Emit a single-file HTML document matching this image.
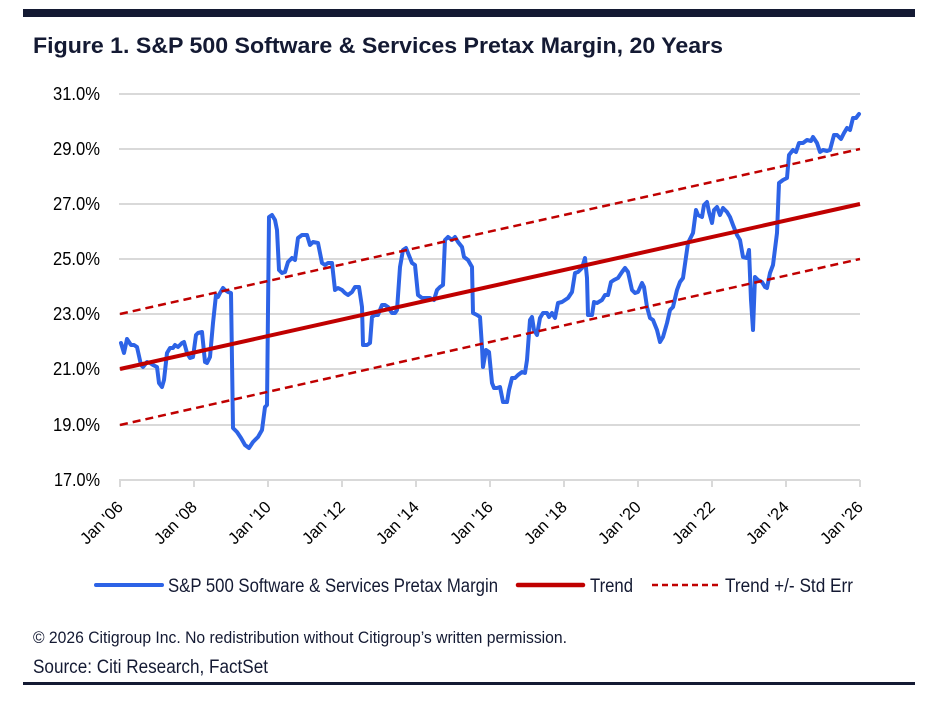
<!DOCTYPE html>
<html><head><meta charset="utf-8"><style>
html,body{margin:0;padding:0;background:#fff;}
svg{display:block;font-family:"Liberation Sans",Arial,sans-serif;}
</style></head><body>
<svg width="934" height="702" viewBox="0 0 934 702" xmlns="http://www.w3.org/2000/svg">
<rect x="23" y="9" width="892" height="8" fill="#141a33"/>
<text x="33" y="53" font-size="22" font-weight="bold" fill="#141a33" textLength="690" lengthAdjust="spacingAndGlyphs">Figure 1. S&amp;P 500 Software &amp; Services Pretax Margin, 20 Years</text>
<g stroke="#d9d9d9" stroke-width="2">
<line x1="119" y1="94" x2="860" y2="94"/>
<line x1="119" y1="149" x2="860" y2="149"/>
<line x1="119" y1="204" x2="860" y2="204"/>
<line x1="119" y1="259" x2="860" y2="259"/>
<line x1="119" y1="314" x2="860" y2="314"/>
<line x1="119" y1="369" x2="860" y2="369"/>
<line x1="119" y1="425" x2="860" y2="425"/>
<line x1="119" y1="480" x2="860" y2="480"/>
<line x1="120" y1="480" x2="120" y2="487"/>
<line x1="194" y1="480" x2="194" y2="487"/>
<line x1="268" y1="480" x2="268" y2="487"/>
<line x1="342" y1="480" x2="342" y2="487"/>
<line x1="416" y1="480" x2="416" y2="487"/>
<line x1="490" y1="480" x2="490" y2="487"/>
<line x1="564" y1="480" x2="564" y2="487"/>
<line x1="638" y1="480" x2="638" y2="487"/>
<line x1="712" y1="480" x2="712" y2="487"/>
<line x1="786" y1="480" x2="786" y2="487"/>
<line x1="860" y1="480" x2="860" y2="487"/>
</g>
<g font-size="18" fill="#000" text-anchor="end">
<text x="100" y="100" textLength="47" lengthAdjust="spacingAndGlyphs">31.0%</text>
<text x="100" y="155" textLength="47" lengthAdjust="spacingAndGlyphs">29.0%</text>
<text x="100" y="210" textLength="47" lengthAdjust="spacingAndGlyphs">27.0%</text>
<text x="100" y="265" textLength="47" lengthAdjust="spacingAndGlyphs">25.0%</text>
<text x="100" y="320" textLength="47" lengthAdjust="spacingAndGlyphs">23.0%</text>
<text x="100" y="375" textLength="47" lengthAdjust="spacingAndGlyphs">21.0%</text>
<text x="100" y="431" textLength="47" lengthAdjust="spacingAndGlyphs">19.0%</text>
<text x="100" y="486" textLength="46" lengthAdjust="spacingAndGlyphs">17.0%</text>
</g>
<g font-size="16.5" fill="#000" text-anchor="end">
<text transform="translate(124,508) rotate(-45)">Jan '06</text>
<text transform="translate(198,508) rotate(-45)">Jan '08</text>
<text transform="translate(272,508) rotate(-45)">Jan '10</text>
<text transform="translate(346,508) rotate(-45)">Jan '12</text>
<text transform="translate(420,508) rotate(-45)">Jan '14</text>
<text transform="translate(494,508) rotate(-45)">Jan '16</text>
<text transform="translate(568,508) rotate(-45)">Jan '18</text>
<text transform="translate(642,508) rotate(-45)">Jan '20</text>
<text transform="translate(716,508) rotate(-45)">Jan '22</text>
<text transform="translate(790,508) rotate(-45)">Jan '24</text>
<text transform="translate(864,508) rotate(-45)">Jan '26</text>
</g>
<polyline fill="none" stroke="#2d63e6" stroke-width="4" stroke-linejoin="round" stroke-linecap="round" points="121,343 124,353 127,339 131,345 134,345 137,347 141,365 143,367 147,362 150,363 153,365 157,367 159,383 162,387 164,380 167,353 170,348 173,348 175,345 178,347 182,343 184,342 187,353 190,358 193,357 196,335 198,333 202,332 205,362 207,363 210,357 213,323 216,295 218,297 220,293 223,288 225,290 228,292 231,293 233,428 237,432 241,438 245,445 249,448 253,442 258,437 262,430 265,407 267,405 269,217 272,215 275,220 277,230 279,270 282,273 285,272 288,262 292,258 295,260 298,238 302,235 305,235 307,235 310,245 313,242 318,243 322,263 325,265 328,263 332,263 335,290 338,288 342,290 345,293 348,295 352,292 355,287 359,287 362,307 363,345 367,345 370,343 372,317 375,315 378,315 382,305 385,305 388,307 392,313 395,313 397,310 400,267 403,250 406,248 408,253 412,263 415,265 418,295 422,298 425,298 430,298 434,300 437,290 440,287 443,285 445,240 448,237 452,240 455,237 458,242 462,247 464,257 468,260 472,267 473,313 477,315 480,317 482,347 483,367 486,350 489,352 492,383 494,388 497,388 500,387 503,402 507,402 509,390 512,378 515,378 518,375 522,372 525,373 527,360 530,320 532,317 534,330 537,335 540,318 543,313 547,313 549,317 552,313 555,318 558,303 562,302 565,300 568,298 572,292 575,273 578,272 582,268 585,258 587,278 588,315 592,315 594,302 597,303 602,300 605,295 608,295 611,282 614,280 618,278 622,272 625,268 628,272 632,290 635,293 638,292 642,283 644,287 647,307 650,318 653,320 657,330 660,342 663,337 667,323 670,310 673,307 677,290 680,282 683,278 686,257 688,243 693,233 696,210 698,215 702,217 704,205 707,202 709,212 712,223 714,210 717,207 720,215 723,208 727,212 730,217 733,225 737,235 740,240 743,257 747,258 749,250 751,300 753,330 755,277 758,280 762,282 765,287 767,288 770,273 773,265 777,233 779,183 783,180 787,178 789,155 793,150 796,152 799,143 803,143 807,140 811,141 813,137 817,143 820,152 823,150 827,151 830,150 834,135 837,135 841,139 844,133 847,128 850,130 853,118 856,118 859,114"/>
<line x1="120" y1="314" x2="860" y2="149" stroke="#c00000" stroke-width="2.5" stroke-dasharray="8,5"/>
<line x1="120" y1="425" x2="860" y2="259" stroke="#c00000" stroke-width="2.5" stroke-dasharray="8,5"/>
<line x1="120" y1="369" x2="860" y2="204" stroke="#c00000" stroke-width="4"/>
<line x1="96" y1="585" x2="162" y2="585" stroke="#2d63e6" stroke-width="4" stroke-linecap="round"/>
<line x1="518" y1="585" x2="583" y2="585" stroke="#c00000" stroke-width="4.5" stroke-linecap="round"/>
<line x1="652" y1="585" x2="718" y2="585" stroke="#c00000" stroke-width="2.5" stroke-dasharray="6,4"/>
<g font-size="19" fill="#141a33">
<text x="168" y="592" textLength="330" lengthAdjust="spacingAndGlyphs">S&amp;P 500 Software &amp; Services Pretax Margin</text>
<text x="590" y="592" textLength="43" lengthAdjust="spacingAndGlyphs">Trend</text>
<text x="725" y="592" textLength="128" lengthAdjust="spacingAndGlyphs">Trend +/- Std Err</text>
</g>
<text x="33" y="643" font-size="16.5" fill="#141a33" textLength="534" lengthAdjust="spacingAndGlyphs">© 2026 Citigroup Inc. No redistribution without Citigroup’s written permission.</text>
<text x="33" y="673" font-size="19" fill="#141a33" textLength="235" lengthAdjust="spacingAndGlyphs">Source: Citi Research, FactSet</text>
<rect x="23" y="682" width="892" height="3" fill="#141a33"/>
</svg>
</body></html>
